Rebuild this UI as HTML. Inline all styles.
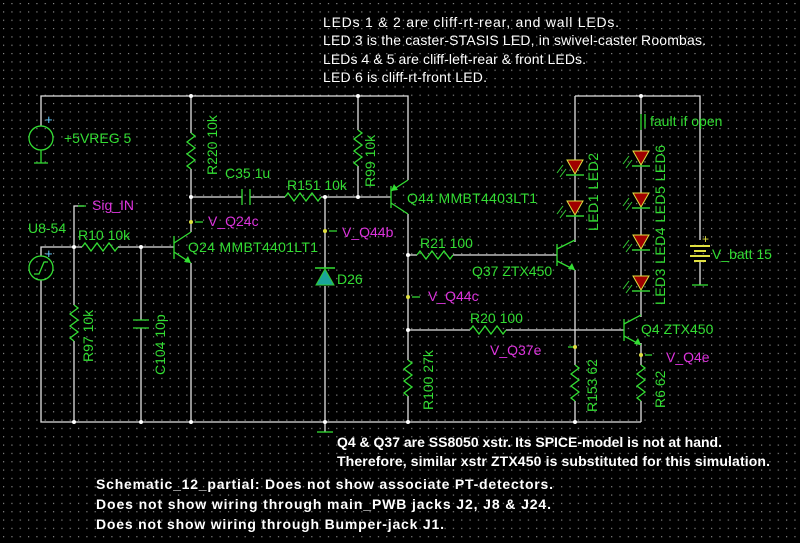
<!DOCTYPE html>
<html><head><meta charset="utf-8"><style>
html,body{margin:0;padding:0;background:#000;width:800px;height:543px;overflow:hidden}
svg{display:block}
text{font-family:"Liberation Sans",Arial,sans-serif}
.g{fill:#33dd33;font-size:14px}
.m{fill:#dd33dd;font-size:14px}
.w{fill:#fff;font-size:14px}
.b{fill:#fff;font-size:14px;font-weight:bold}
</style></head><body>
<svg width="800" height="543" viewBox="0 0 800 543" xmlns="http://www.w3.org/2000/svg">
<defs>
<pattern id="dots" width="8.33" height="8.33" patternUnits="userSpaceOnUse" x="3" y="3">
<rect x="0" y="0" width="1.2" height="1.2" fill="#888"/>
</pattern>
<g id="led"><polygon points="-8,-7 8,-7 0,7" fill="#a00000" stroke="#e0e040" stroke-width="1"/><line x1="-9" y1="8" x2="9" y2="8" stroke="#33cc33" stroke-width="1.5"/>
<line x1="-18" y1="6" x2="-12" y2="-2" stroke="#33cc33"/><line x1="-15" y1="10" x2="-9" y2="2" stroke="#33cc33"/></g>
</defs>
<rect width="800" height="543" fill="#000"/>
<rect width="800" height="543" fill="url(#dots)"/>

<g stroke="#e0e0e0" stroke-width="1.3" fill="none">
<path d="M41 126 V96 H408 V180"/>
<path d="M191 96 V133 M191 169 V197 H242 M250 197 H285 M321 197 H391 M358 96 V130 M358 166 V197"/>
<path d="M41 256 V247 H82 M118 247 H174"/>
<path d="M74 247 V206 H84"/>
<path d="M41 280 V422 H641"/>
<path d="M74 247 V305 M74 341 V422 M141 247 V320 M141 328 V422"/>
<path d="M191 197 V232 M191 263 V422"/>
<path d="M325 197 V268 M325 286 V432"/>
<path d="M408 214 V360 M408 396 V422"/>
<path d="M408 255 H417 M453 255 H557"/>
<path d="M408 330 H470 M506 330 H624"/>
<path d="M575 96 H700 V240 M700 262 V285"/>
<path d="M575 96 V160 M575 174 V201 M575 215 V242 M575 270 V365 M575 401 V422"/>
<path d="M641 96 V114 M641 130 V151 M641 165 V193 M641 207 V235 M641 249 V276 M641 290 V317 M641 343 V365 M641 401 V422"/>
</g>

<g stroke="#33dd33" stroke-width="1.3" fill="none">
<path d="M191 133 l4 3 l-8 6 l8 6 l-8 6 l8 6 l-8 6 l4 3"/>
<path d="M358 130 l4 3 l-8 6 l8 6 l-8 6 l8 6 l-8 6 l4 3"/>
<path d="M74 305 l4 3 l-8 6 l8 6 l-8 6 l8 6 l-8 6 l4 3"/>
<path d="M408 360 l4 3 l-8 6 l8 6 l-8 6 l8 6 l-8 6 l4 3"/>
<path d="M575 365 l4 3 l-8 6 l8 6 l-8 6 l8 6 l-8 6 l4 3"/>
<path d="M641 365 l4 3 l-8 6 l8 6 l-8 6 l8 6 l-8 6 l4 3"/>
<path d="M82 247 l3 -4 l6 8 l6 -8 l6 8 l6 -8 l6 8 l3 -4"/>
<path d="M285 197 l3 -4 l6 8 l6 -8 l6 8 l6 -8 l6 8 l3 -4"/>
<path d="M417 255 l3 -4 l6 8 l6 -8 l6 8 l6 -8 l6 8 l3 -4"/>
<path d="M470 330 l3 -4 l6 8 l6 -8 l6 8 l6 -8 l6 8 l3 -4"/>
<path d="M242 189 V205 M250 189 V205"/>
<path d="M133 320 H149 M133 328 H149"/>
<circle cx="41" cy="138" r="12"/><path d="M41 150 V163 M34 163 H48"/>
<circle cx="41" cy="268" r="12"/><path d="M34 274 H39 L44 262 H48"/>
<path d="M317 432 H333"/><path d="M692 285 H708"/>
<path d="M174 236 V259 M174 243 L191 232 M174 252 L191 263"/>
<path d="M391 186 V208 M391 191 L408 180 M391 203 L408 214"/>
<path d="M557 244 V266 M557 249 L575 240 M557 261 L575 270"/>
<path d="M624 319 V341 M624 324 L641 315 M624 336 L641 345"/>
<path d="M641 114 V130 M645 114 V128"/>
<path d="M195 222 H203 M329 231 H337 M412 297 H420 M568 347 H576 M645 355 H652 M78 206 H86"/>
</g>
<g fill="#33dd33">
<polygon points="191,263 184,262 188,256"/>
<polygon points="391,191 398,190 394,184"/>
<polygon points="575,270 568,269 572,263"/>
<polygon points="641,345 634,344 638,338"/>
</g>
<polygon points="325,269 316,285 334,285" fill="#1aa59a" stroke="#33cc33"/>
<line x1="315" y1="268" x2="335" y2="268" stroke="#33dd33" stroke-width="1.5"/>
<g stroke="#e0e040" stroke-width="2">
<line x1="690" y1="246" x2="710" y2="246"/><line x1="694" y1="251" x2="706" y2="251"/>
<line x1="690" y1="256" x2="710" y2="256"/><line x1="694" y1="261" x2="706" y2="261"/>
</g>
<g fill="#66ccff"><text x="45" y="124" fill="#66ccff" style="font-size:13px">+</text><text x="45" y="258" style="font-size:13px">+</text></g>
<text x="702" y="243" fill="#e0e040" style="font-size:12px">+</text>
<use href="#led" x="575" y="167"/><use href="#led" x="575" y="208"/>
<use href="#led" x="641" y="158"/><use href="#led" x="641" y="200"/>
<use href="#led" x="641" y="242"/><use href="#led" x="641" y="283"/>
<g fill="#fff">
<circle cx="191" cy="96" r="2"/><circle cx="358" cy="96" r="2"/><circle cx="191" cy="197" r="2"/>
<circle cx="325" cy="197" r="2"/><circle cx="358" cy="197" r="2"/><circle cx="74" cy="247" r="2"/>
<circle cx="141" cy="247" r="2"/><circle cx="74" cy="422" r="2"/><circle cx="141" cy="422" r="2"/>
<circle cx="191" cy="422" r="2"/><circle cx="325" cy="422" r="2"/><circle cx="408" cy="422" r="2"/>
<circle cx="575" cy="422" r="2"/><circle cx="408" cy="255" r="2"/><circle cx="408" cy="330" r="2"/>
<circle cx="641" cy="96" r="2"/><circle cx="191" cy="222" r="2" fill="#e0e040"/><circle cx="325" cy="231" r="2" fill="#e0e040"/>
<circle cx="408" cy="297" r="2" fill="#e0e040"/><circle cx="575" cy="347" r="2" fill="#e0e040"/><circle cx="641" cy="355" r="2" fill="#e0e040"/>
</g>

<text class="g" x="64" y="143">+5VREG 5</text>
<text class="g" transform="translate(217,175) rotate(-90)">R220 10k</text>
<text class="g" x="225" y="178">C35 1u</text>
<text class="g" x="287" y="190">R151 10k</text>
<text class="g" transform="translate(375,187) rotate(-90)">R99 10k</text>
<text class="m" x="92" y="210">Sig_IN</text>
<text class="g" x="28" y="233">U8-54</text>
<text class="g" x="78" y="240">R10 10k</text>
<text class="m" x="208" y="226">V_Q24c</text>
<text class="g" x="188" y="252" textLength="130">Q24 MMBT4401LT1</text>
<text class="m" x="342" y="237">V_Q44b</text>
<text class="g" x="337" y="284">D26</text>
<text class="g" transform="translate(93,362) rotate(-90)">R97 10k</text>
<text class="g" transform="translate(165,375) rotate(-90)">C104 10p</text>
<text class="g" x="407" y="203" textLength="130">Q44 MMBT4403LT1</text>
<text class="g" x="420" y="248">R21 100</text>
<text class="g" x="472" y="276">Q37 ZTX450</text>
<text class="m" x="428" y="301">V_Q44c</text>
<text class="g" x="470" y="323">R20 100</text>
<text class="m" x="490" y="355">V_Q37e</text>
<text class="g" transform="translate(433,410) rotate(-90)">R100 27k</text>
<text class="g" transform="translate(597,412) rotate(-90)">R153 62</text>
<text class="g" transform="translate(665,408) rotate(-90)">R6 62</text>
<text class="g" x="641" y="334">Q4 ZTX450</text>
<text class="m" x="666" y="362">V_Q4e</text>
<text class="g" x="650" y="126">fault if open</text>
<text class="g" transform="translate(598,231) rotate(-90)" textLength="78">LED1 LED2</text>
<text class="g" transform="translate(665,305) rotate(-90)" textLength="160">LED3 LED4 LED5 LED6</text>
<text class="g" x="712" y="259">V_batt 15</text>

<text class="w" x="323" y="27" textLength="296">LEDs 1 &amp; 2 are cliff-rt-rear, and wall LEDs.</text>
<text class="w" x="323" y="45" textLength="383">LED 3 is the caster-STASIS LED, in swivel-caster Roombas.</text>
<text class="w" x="323" y="64" textLength="263">LEDs 4 &amp; 5 are cliff-left-rear &amp; front LEDs.</text>
<text class="w" x="323" y="82" textLength="164">LED 6 is cliff-rt-front LED.</text>

<text class="b" x="337" y="447" textLength="385">Q4 &amp; Q37 are SS8050 xstr. Its SPICE-model is not at hand.</text>
<text class="b" x="337" y="466" textLength="433">Therefore, similar xstr ZTX450 is substituted for this simulation.</text>
<text class="b" x="96" y="489" textLength="457">Schematic_12_partial: Does not show associate PT-detectors.</text>
<text class="b" x="96" y="509" textLength="455">Does not show wiring through main_PWB jacks J2, J8 &amp; J24.</text>
<text class="b" x="96" y="529" textLength="348">Does not show wiring through Bumper-jack J1.</text>
</svg>
</body></html>
